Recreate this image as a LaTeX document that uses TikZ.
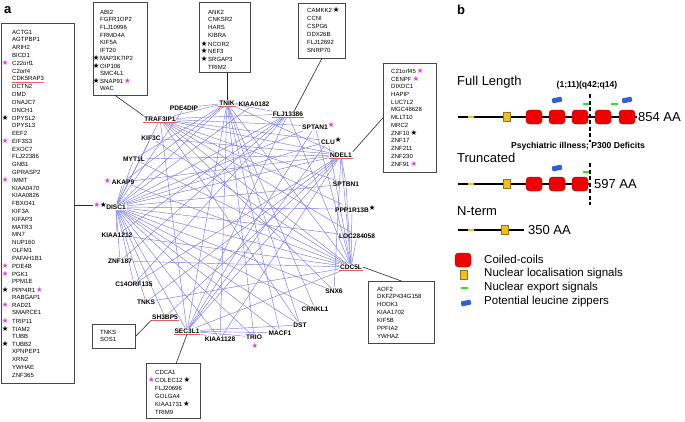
\documentclass[tikz,border=0pt]{standalone}
\usepackage{fontspec}
\setmainfont{Liberation Sans}
\newfontfamily\djv{DejaVu Sans}
\usetikzlibrary{backgrounds,calc}
\definecolor{edgec}{RGB}{122,122,234}
\definecolor{magst}{RGB}{225,60,225}
\definecolor{ulred}{RGB}{232,95,95}
\definecolor{boxc}{RGB}{70,70,70}
\definecolor{coilred}{RGB}{240,0,0}
\definecolor{coildk}{RGB}{170,0,0}
\definecolor{nlsy}{RGB}{240,190,30}
\definecolor{nlsdk}{RGB}{150,115,20}
\definecolor{nesg}{RGB}{40,225,40}
\definecolor{zipb}{RGB}{45,95,220}
\newcommand\mst{{\djv\fontsize{7.4}{7.4}\selectfont\color{magst}★}}
\newcommand\bst{{\djv\fontsize{7.4}{7.4}\selectfont\color{black}★}}
\newcommand\netf{\fontsize{6.6}{7}\selectfont\bfseries}
\newcommand\lstf{\fontsize{6}{7}\selectfont}
\newcommand\ttlf{\fontsize{13}{15}\selectfont}
\newcommand\legf{\fontsize{11.5}{13}\selectfont}
\newcommand\smallbf{\fontsize{8.6}{10}\selectfont\bfseries}
\begin{document}
\begin{tikzpicture}[x=1pt,y={(0,-1pt)},
 netlabel/.style={font=\netf, inner sep=0.8pt},
 liststyle/.style={font=\lstf, inner sep=0pt, anchor=west},
 boxst/.style={draw=boxc, line width=0.6pt, inner sep=0pt, anchor=north west},
 ulst/.style={draw=ulred, line width=0.8pt},
 netedge/.style={draw=edgec, line width=0.45pt},
 conn/.style={draw=black!85, line width=0.6pt},
 pline/.style={draw=black, line width=2.4pt},
 coilst/.style={draw=coildk, line width=0.4pt, fill=coilred, minimum width=16pt, minimum height=14pt, inner sep=0pt, rounded corners=3.5pt},
 nlsst/.style={draw=nlsdk, line width=0.4pt, fill=nlsy, minimum width=7pt, minimum height=9pt, inner sep=0pt},
 nesst/.style={fill=nesg, minimum width=7pt, minimum height=2.6pt, inner sep=0pt},
 zipst/.style={fill=zipb, minimum width=10pt, minimum height=5pt, inner sep=0pt, rounded corners=1pt, rotate=12},
 dashl/.style={draw=black, line width=1.3pt, dash pattern=on 4pt off 2.5pt},
 aatext/.style={font=\ttlf, anchor=west, inner sep=0pt},
 legtext/.style={font=\legf, anchor=west, inner sep=0pt}
]
\useasboundingbox (0,0) rectangle (685,421);

% panel letters
\node[font=\bfseries\fontsize{13}{14}\selectfont, anchor=west, inner sep=0pt] (pa) at (4,10) {a};
\node[font=\bfseries\fontsize{13}{14}\selectfont, anchor=west, inner sep=0pt] (pb) at (457,10) {b};

% ---------------- network labels
\node[netlabel] (tnik) at (227,103) {TNIK};
\node[netlabel] (k0182) at (254,104) {KIAA0182};
\node[netlabel] (pde) at (184,108) {PDE4DIP};
\node[netlabel] (traf) at (160,119) {TRAF3IP1};
\node[netlabel] (kif3c) at (151,138) {KIF3C};
\node[netlabel] (myt) at (134,159) {MYT1L};
\node[netlabel] (akap) at (123,182) {AKAP9};
\node[netlabel] (disc) at (116,207) {DISC1};
\node[netlabel] (k1212) at (117,235) {KIAA1212};
\node[netlabel] (znf187) at (120,261) {ZNF187};
\node[netlabel] (c14) at (134,284) {C14ORF135};
\node[netlabel] (tnks) at (146,302) {TNKS};
\node[netlabel] (sh3) at (165,317) {SH3BP5};
\node[netlabel] (sec) at (187,331) {SEC3L1};
\node[netlabel] (k1128) at (220,339) {KIAA1128};
\node[netlabel] (trio) at (254,337) {TRIO};
\node[netlabel] (macf) at (280,333) {MACF1};
\node[netlabel] (dst) at (300,325) {DST};
\node[netlabel] (crnkl) at (315,309) {CRNKL1};
\node[netlabel] (snx) at (334,291) {SNX6};
\node[netlabel] (cdc) at (351,267) {CDC5L};
\node[netlabel] (loc) at (357,236) {LOC284058};
\node[netlabel] (ppp) at (352,209) {PPP1R13B\rlap{\raisebox{1.5pt}{\bst}}};
\node[netlabel] (sptbn) at (346,184) {SPTBN1};
\node[netlabel] (ndel) at (341,155) {NDEL1};
\node[netlabel] (clu) at (328,141) {CLU\rlap{\raisebox{2pt}{\bst}}};
\node[netlabel] (sptan) at (315,126) {SPTAN1\rlap{\raisebox{2pt}{\mst}}};
\node[netlabel] (flj) at (288,114) {FLJ13386};
% stars beside network labels
\node[inner sep=0pt, anchor=east] (akapst) at (111,181) {\mst};
\node[inner sep=0pt, anchor=east] (discst) at (107,205) {\mst\bst};
\node[inner sep=0pt] (triost) at (255,346) {\mst};

% red underlines of hubs
\foreach \n in {traf,tnik,flj,ndel,cdc,sec,sh3}
  \draw[ulst] (\n.south west) -- (\n.south east);

% ---------------- network edges
\begin{scope}[on background layer]
\foreach \a/\b in {disc/akap,disc/myt,disc/kif3c,disc/traf,disc/pde,disc/tnik,disc/k0182,disc/flj,disc/sptan,disc/clu,disc/ndel,disc/sptbn,disc/ppp,disc/loc,disc/cdc,disc/snx,disc/crnkl,disc/dst,disc/macf,disc/trio,disc/k1128,disc/sec,disc/sh3,disc/tnks,disc/c14,disc/znf187,disc/k1212,
 traf/tnik,traf/flj,traf/sptan,traf/clu,traf/ndel,traf/sptbn,traf/ppp,traf/loc,traf/cdc,traf/snx,traf/dst,traf/sec,
 tnik/pde,tnik/k0182,tnik/flj,tnik/sec,tnik/k1128,tnik/trio,tnik/macf,tnik/dst,tnik/crnkl,tnik/cdc,tnik/ndel,tnik/myt,tnik/akap,
 ndel/sptbn,ndel/cdc,ndel/snx,ndel/sec,ndel/kif3c,ndel/myt,ndel/akap,ndel/c14,ndel/tnks,ndel/sh3,ndel/k1128,
 cdc/ppp,cdc/loc,cdc/sptbn,cdc/kif3c,cdc/myt,cdc/akap,cdc/k1212,cdc/znf187,cdc/sec,cdc/tnks,cdc/flj,cdc/sptan,cdc/clu,
 sec/k1128,sec/trio,sec/macf,sec/flj,sec/sptan,sec/clu,sec/dst,
 flj/c14,flj/znf187,flj/k1212}
  \draw[netedge] (\a) -- (\b);
\end{scope}

% ---------------- boxes
\node[boxst, minimum width=73pt, minimum height=360pt] (lbox) at (1,23) {};
\node[boxst, minimum width=54pt, minimum height=93pt] (abibox) at (93,2) {};
\node[boxst, minimum width=51pt, minimum height=70pt] (ankbox) at (199,2) {};
\node[boxst, minimum width=47pt, minimum height=55pt] (camkbox) at (298,3) {};
\node[boxst, minimum width=53pt, minimum height=109pt] (czbox) at (383,63) {};
\node[boxst, minimum width=66pt, minimum height=62pt] (aofbox) at (368,281) {};
\node[boxst, minimum width=43pt, minimum height=24pt] (tnksbox) at (92,324) {};
\node[boxst, minimum width=54pt, minimum height=55pt] (cdcabox) at (146,363) {};

% left list
\foreach \t [count=\i] in {ACTG1,AGTPBP1,ARIH2,BICD1,{\llap{\mst\hspace{3.6pt}}C22orf1},C2orf4,CDK5RAP3,DCTN2,DMD,DNAJC7,DNCH1,{\llap{\bst\hspace{3.6pt}}DPYSL2},DPYSL3,EEF2,{\llap{\mst\hspace{3.6pt}}EIF3S3},EXOC7,FLJ22386,GNB1,GPRASP2,{\llap{\mst\hspace{3.6pt}}IMMT},KIAA0470,KIAA0826,FBXO41,KIF3A,KIFAP3,MATR3,MN7,NUP160,OLFM1,PAFAH1B1,{\llap{\mst\hspace{3.6pt}}PDE4B},{\llap{\mst\hspace{3.6pt}}PGK1},PPM1E,{\llap{\bst\hspace{3.6pt}}PPP4R1\,\mst},RABGAP1,{\llap{\mst\hspace{3.6pt}}RAD21},SMARCE1,{\llap{\mst\hspace{3.6pt}}TRIP11},{\llap{\bst\hspace{3.6pt}}TIAM2},TUBB,{\llap{\bst\hspace{3.6pt}}TUBB2},XPNPEP1,XRN2,YWHAE,ZNF365}
  \node[liststyle] (L\i) at (12,{32+(\i-1)*7.8}) {\t};
\draw[ulst, line width=0.6pt] ([yshift=-0.8pt]L7.south west) -- ([yshift=-0.8pt]L7.south east);

% ABI2 list
\foreach \t [count=\i] in {ABI2,FGFR1OP2,FLJ10996,FRMD4A,KIF5A,IFT20,{\llap{\bst\hspace{0.8pt}}MAP3K7IP2},{\llap{\bst\hspace{0.8pt}}OIP106},SMC4L1,{\llap{\bst\hspace{0.8pt}}SNAP91\,\mst},WAC}
  \node[liststyle] (A\i) at (100,{12+(\i-1)*7.66}) {\t};
% ANK2 list
\foreach \t [count=\i] in {ANK2,CNKSR2,HARS,KIBRA,{\llap{\bst\hspace{0.8pt}}NCOR2},{\llap{\bst\hspace{0.8pt}}NEF3},{\llap{\bst\hspace{0.8pt}}SRGAP3},TRIM2}
  \node[liststyle] (K\i) at (208,{12+(\i-1)*7.86}) {\t};
% CAMKK2 list
\foreach \t [count=\i] in {{CAMKK2\,\raisebox{0.5pt}{\bst}},CCNI,CSPG6,DDX26B,FLJ12692,SNRP70}
  \node[liststyle] (M\i) at (307,{10+(\i-1)*8}) {\t};
% C21orf45 list
\foreach \t [count=\i] in {{C21orf45\,\raisebox{0.5pt}{\mst}},{CENPF\,\raisebox{0.5pt}{\mst}},DIXDC1,HAPIP,LUC7L2,MGC48628,MLLT10,MRC2,{ZNF10\,\raisebox{0.5pt}{\bst}},ZNF17,ZNF211,ZNF230,{ZNF91\,\raisebox{0.5pt}{\mst}}}
  \node[liststyle] (Z\i) at (391,{71+(\i-1)*7.75}) {\t};
% AOF2 list
\foreach \t [count=\i] in {AOF2,DKFZP434G158,HOOK1,KIAA1702,KIF5B,PPFIA2,YWHAZ}
  \node[liststyle] (F\i) at (377,{289+(\i-1)*7.83}) {\t};
% TNKS list
\foreach \t [count=\i] in {TNKS,SOS1}
  \node[liststyle] (T\i) at (100,{332+(\i-1)*7.3}) {\t};
% CDCA1 list
\foreach \t [count=\i] in {CDCA1,{\llap{\mst\hspace{0.5pt}}COLEC12\,\raisebox{0.5pt}{\bst}},FLJ20696,GOLGA4,{KIAA1731\,\raisebox{0.5pt}{\bst}},TRIM9}
  \node[liststyle] (D\i) at (155,{372+(\i-1)*8}) {\t};

% connectors from boxes
\draw[conn] (lbox.east |- discst) -- (discst.west);
\draw[conn] ([xshift=-5pt]abibox.south) -- (traf.north west);
\draw[conn] (tnik.north |- ankbox.south) -- (tnik.north);
\draw[conn] (camkbox.south) -- ($(flj.north)!0.4!(flj.north east)$);
\draw[conn] (czbox.west) -- (ndel.north east);
\draw[conn] (cdc.east) -- (aofbox.north);
\draw[conn] (tnksbox.east) -- (sh3.south west);
\draw[conn] ([xshift=3pt]cdcabox.north) -- (sec.south);

% ---------------- panel b
\node[font=\ttlf, anchor=west, inner sep=0pt] (flt) at (457,82) {Full Length};
\node[font=\smallbf, inner sep=0pt] (trans) at (587,85) {(1;11)(q42;q14)};
\node[font=\smallbf, inner sep=0pt] (psy) at (578,146) {Psychiatric illness; P300 Deficits};
\node[font=\ttlf, anchor=west, inner sep=0pt] (trt) at (457,158) {Truncated};
\node[font=\ttlf, anchor=west, inner sep=0pt] (ntt) at (457,211) {N-term};

% full length
\draw[pline] (458,117) -- (637,117);
\fill[nlsy] (468,116) rectangle (474,118);
\node[nlsst] (fn) at (507,117) {};
\foreach \x [count=\i] in {534,557,580,603,627} \node[coilst] (fc\i) at (\x,117) {};
\node[aatext] (faa) at (638,117) {854 AA};
\node[zipst] (fz1) at (557,100) {};
\node[zipst] (fz2) at (627,100) {};
\node[nesst] (fe1) at (586,104) {};
\node[nesst] (fe2) at (614,104) {};

% truncated
\draw[pline] (458,184) -- (590,184);
\fill[nlsy] (468,183) rectangle (474,185);
\node[nlsst] (tn) at (507,184) {};
\foreach \x [count=\i] in {534,557,580} \node[coilst] (tc\i) at (\x,184) {};
\node[aatext] (taa) at (594,184) {597 AA};
\node[zipst] (tz1) at (557,168) {};
\node[nesst] (te1) at (586,172) {};

% dashed breakpoint
\draw[dashl] (590,94) -- (590,142);
\draw[dashl] (590,163) -- (590,205);

% N-term
\draw[pline] (458,230) -- (524,230);
\fill[nlsy] (468,229) rectangle (474,231);
\node[nlsst] (nn) at (505,230) {};
\node[aatext] (naa) at (528,230) {350 AA};

% legend
\node[coilst] (lg1) at (463,260) {};
\node[legtext] (lt1) at (484,259) {Coiled-coils};
\node[nlsst] (lg2) at (464,275) {};
\node[legtext] (lt2) at (484,274) {Nuclear localisation signals};
\node[nesst] (lg3) at (464,288) {};
\node[legtext] (lt3) at (484,288) {Nuclear export signals};
\node[zipst] (lg4) at (466,303) {};
\node[legtext] (lt4) at (484,302) {Potential leucine zippers};
\end{tikzpicture}
\end{document}
